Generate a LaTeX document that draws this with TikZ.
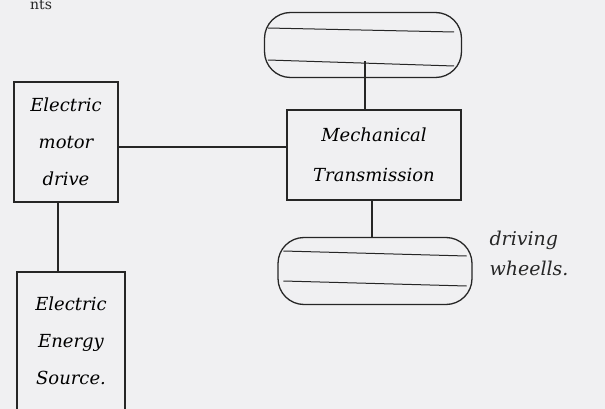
\documentclass[tikz,border=0pt]{standalone}
\usepackage{fontspec}
\setmainfont{DejaVu Serif}
\begin{document}
\begin{tikzpicture}[x=1pt,y=-1pt,
  ink/.style={draw=black!85, line width=1.3pt},
  block/.style={ink, rectangle, align=center, font=\itshape\fontsize{18}{37}\selectfont, inner sep=0pt},
  wheel/.style={ink, rectangle, rounded corners=26pt, inner sep=0pt},
  wire/.style={ink, line width=1.5pt}]
  \fill[white!94!blue!60!gray!25] (0,0) rectangle (605,409);
  \useasboundingbox (0,0) rectangle (605,409);

  % heading fragment at the top edge
  \node[anchor=north west, inner sep=0pt, font=\fontsize{14}{14}\selectfont, text=black!85] (head) at (30,0) {nts};

  % blocks
  \node[block, minimum width=104pt, minimum height=120pt] (motor) at (66,142)
    {Electric\\motor\\drive};
  \node[block, minimum width=108pt, minimum height=138pt] (source) at (71,341)
    {Electric\\Energy\\Source.};
  \node[block, minimum width=174pt, minimum height=90pt, font=\itshape\fontsize{18}{40}\selectfont] (trans) at (374,155)
    {Mechanical\\Transmission};

  % wheels
  \node[wheel, minimum width=197pt, minimum height=65pt] (wtop) at (363,45) {};
  \node[wheel, minimum width=194pt, minimum height=67pt] (wbot) at (375,271) {};
  \draw[ink, line width=1pt] ([xshift=4pt,yshift=-15pt]wtop.west) -- ([xshift=-8pt,yshift=-21pt]wtop.east);
  \draw[ink, line width=1pt] ([xshift=4pt,yshift=17pt]wtop.west) -- ([xshift=-8pt,yshift=13pt]wtop.east);
  \draw[ink, line width=1pt] ([xshift=6pt,yshift=-10pt]wbot.west) -- ([xshift=-6pt,yshift=-15pt]wbot.east);
  \draw[ink, line width=1pt] ([xshift=6pt,yshift=20pt]wbot.west) -- ([xshift=-6pt,yshift=15pt]wbot.east);

  % connections
  \draw[wire] (motor.east |- 0,147) -- (trans.west |- 0,147);
  \draw[wire] (motor.south -| 58,0) -- (source.north -| 58,0);
  \draw[wire] ([yshift=17pt]wtop.south -| 365,0) -- (trans.north -| 365,0);
  \draw[wire] (trans.south -| 372,0) -- (wbot.north -| 372,0);

  % label
  \node[anchor=west, align=left, font=\itshape\fontsize{19}{30}\selectfont, text=black!85] (lbl) at (486,253)
    {driving\\wheells.};
\end{tikzpicture}
\end{document}
